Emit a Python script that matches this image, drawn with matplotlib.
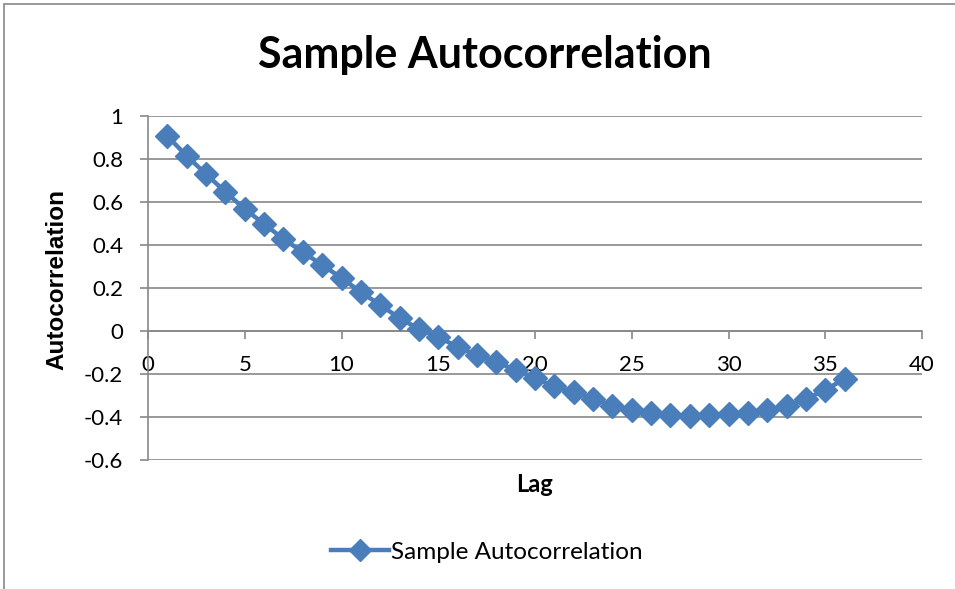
import matplotlib.pyplot as plt
from matplotlib.patches import Rectangle

# values
lags = list(range(1, 37))
acf = [0.907, 0.814, 0.730, 0.647, 0.567, 0.498, 0.428, 0.367, 0.307, 0.247,
       0.181, 0.121, 0.060, 0.009, -0.028, -0.074, -0.112, -0.144, -0.181, -0.219,
       -0.258, -0.286, -0.314, -0.349, -0.367, -0.381, -0.391, -0.395, -0.391, -0.386,
       -0.381, -0.367, -0.349, -0.316, -0.274, -0.223]
x_ticks = [0, 5, 10, 15, 20, 25, 30, 35, 40]
y_ticks = [-0.6, -0.4, -0.2, 0, 0.2, 0.4, 0.6, 0.8, 1]
y_labels = ["-0.6", "-0.4", "-0.2", "0", "0.2", "0.4", "0.6", "0.8", "1"]

plt.rcParams['font.family'] = ['Lato', 'DejaVu Sans']

blue = '#4A7EBB'
grid = '#888888'

fig = plt.figure(figsize=(9.55, 5.89), dpi=100)
# outer chart frame (only left and top edges are visible in the crop)
fig.patches.append(Rectangle((4 / 955, -0.1), 1.2, 1.1 - 4 / 589, transform=fig.transFigure,
                             fill=False, edgecolor='#888888', linewidth=1.2))
ax = fig.add_axes([148 / 955, 1 - 460 / 589, (922 - 148) / 955, (460 - 116) / 589])

line, = ax.plot(lags, acf, color=blue, linewidth=3.2, marker='D', markersize=12,
                label='Sample Autocorrelation', zorder=3)

ax.set_xlim(0, 40)
ax.set_ylim(-0.6, 1)
ax.set_xticks(x_ticks)
ax.set_yticks(y_ticks)
ax.set_yticklabels(y_labels)
ax.yaxis.grid(True, color=grid, linewidth=1.2)
ax.set_axisbelow(True)

for s in ['top', 'right']:
    ax.spines[s].set_visible(False)
ax.spines['bottom'].set_position(('data', 0))
for s in ['bottom', 'left']:
    ax.spines[s].set_color(grid)
    ax.spines[s].set_linewidth(1.2)
ax.tick_params(axis='both', direction='out', length=6, width=1.2, color=grid,
               labelsize=16, labelcolor='black')
ax.tick_params(axis='x', pad=11)
ax.tick_params(axis='y', pad=12)

fig.text(485 / 955, 1 - 55 / 589, 'Sample Autocorrelation', fontsize=31,
         fontweight='bold', ha='center', va='center')
fig.text(57 / 955, 1 - 280 / 589, 'Autocorrelation', fontsize=17.5, fontweight='bold',
         family='Liberation Sans', rotation=90, ha='center', va='center')
fig.text(534 / 955, 1 - 485 / 589, 'Lag', fontsize=17, fontweight='bold',
         ha='center', va='center')

fig.legend(handles=[line], loc='center', bbox_to_anchor=(487 / 955, 1 - 552 / 589),
           frameon=False, fontsize=17.5, handlelength=2.35, handletextpad=0.1,
           markerscale=0.9)

fig.savefig('out.png', dpi=100)
